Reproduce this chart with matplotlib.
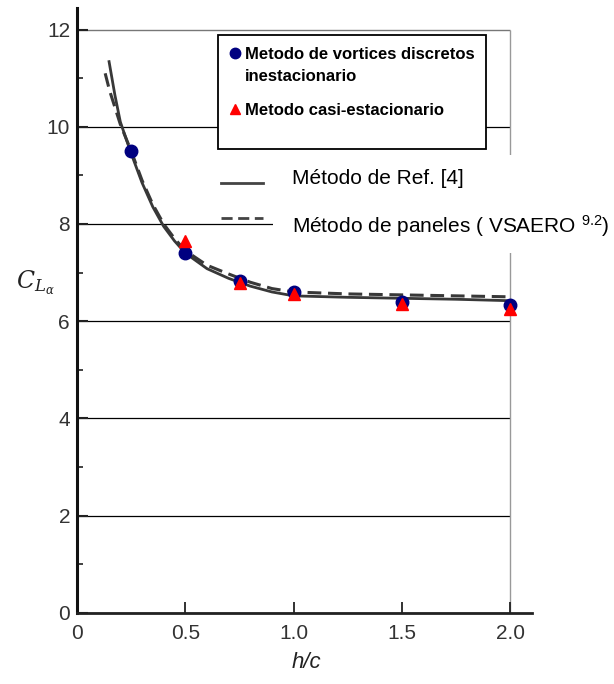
import matplotlib
matplotlib.use('Agg')
import matplotlib.pyplot as plt
from matplotlib.patches import Rectangle
from matplotlib.lines import Line2D

W, H = 614, 684

# Curva del metodo de Ref. [4] (linea continua)
hc_ref = [0.148, 0.175, 0.20, 0.25, 0.30, 0.35, 0.40, 0.45, 0.50, 0.60, 0.70, 0.80, 0.90, 1.00, 1.25, 1.50, 1.75, 2.00]
cl_ref = [11.34, 10.65, 10.10, 9.45, 8.85, 8.35, 7.95, 7.65, 7.40, 7.08, 6.88, 6.72, 6.60, 6.52, 6.49, 6.47, 6.45, 6.42]

# Curva del metodo de paneles VSAERO (linea discontinua)
hc_pan = [0.13, 0.15, 0.20, 0.25, 0.30, 0.35, 0.40, 0.45, 0.50, 0.60, 0.70, 0.80, 0.90, 1.00, 1.25, 1.50, 1.75, 2.00]
cl_pan = [11.10, 10.75, 10.05, 9.50, 8.90, 8.40, 8.00, 7.70, 7.45, 7.15, 6.97, 6.80, 6.67, 6.60, 6.56, 6.54, 6.52, 6.50]

# Metodo de vortices discretos inestacionario
hc_vort = [0.25, 0.5, 0.75, 1.0, 1.5, 2.0]
cl_vort = [9.50, 7.41, 6.83, 6.59, 6.40, 6.33]

# Metodo casi-estacionario
hc_qs = [0.5, 0.75, 1.0, 1.5, 2.0]
cl_qs = [7.64, 6.79, 6.56, 6.36, 6.24]

yticks = [0, 2, 4, 6, 8, 10, 12]
xticks = [0, 0.5, 1.0, 1.5, 2.0]
xticklabels = ['0', '0.5', '1.0', '1.5', '2.0']

plt.rcParams['font.family'] = ['Liberation Sans', 'DejaVu Sans']
plt.rcParams['mathtext.fontset'] = 'dejavuserif'


def fx(px):
    return px / W


def fy(py):
    return 1 - py / H


fig = plt.figure(figsize=(W / 100, H / 100), dpi=100)
ax = fig.add_axes([fx(77), fy(612.7), 455 / W, 605 / H])
ax.set_xlim(0, 2.1)
ax.set_ylim(0, 12.45)

# lineas horizontales y borde derecho
for v in yticks[:-1]:
    ax.hlines(v, 0, 2.0, color='black', lw=0.9, zorder=1)
ax.hlines(12, 0, 2.0, color='#777777', lw=1.0, zorder=1)
ax.vlines(2.0, 0, 12, color='#999999', lw=1.0, zorder=1)

ax.plot(hc_ref, cl_ref, color='#383838', lw=2.0, zorder=2)
ax.plot(hc_pan, cl_pan, color='#383838', lw=2.2, dashes=(4.5, 2.2), zorder=2)

ax.plot(hc_vort, cl_vort, 'o', color='#000080', ms=9, zorder=4)
ax.plot(hc_qs, cl_qs, '^', color='#ff0000', ms=8.5, zorder=5)

for s in ['top', 'right']:
    ax.spines[s].set_visible(False)
ax.spines['left'].set_linewidth(2.2)
ax.spines['left'].set_color('#111111')
ax.spines['bottom'].set_linewidth(2.0)
ax.spines['bottom'].set_color('#222222')

ax.set_yticks(yticks)
ax.set_yticks([1, 3, 5, 7, 9, 11], minor=True)
ax.set_xticks(xticks)
ax.set_xticklabels(xticklabels)
ax.tick_params(axis='y', which='major', direction='in', length=8, width=1.5,
               pad=5, labelsize=15, labelcolor='#333333', color='#222222')
ax.tick_params(axis='y', which='minor', direction='in', length=4, width=1.3,
               color='#333333')
ax.tick_params(axis='x', direction='in', length=8, width=1.3, pad=8,
               labelsize=15, labelcolor='#333333', color='#222222')

fig.text(fx(306), fy(663), 'h/c', style='italic', fontsize=16,
         ha='center', va='center', color='#222222')
fig.text(fx(35), fy(283), r'$C_{L_\alpha}$', fontsize=17,
         ha='center', va='center', color='#222222')

# recuadro de la leyenda de los puntos
fig.add_artist(Rectangle((fx(218), fy(149)), (486 - 218) / W, (149 - 35) / H,
                         transform=fig.transFigure, facecolor='white',
                         edgecolor='black', lw=1.3, zorder=3))
fig.add_artist(Line2D([fx(234.5)], [fy(53)], marker='o', color='#000080',
                      ms=7.5, transform=fig.transFigure, zorder=4))
fig.add_artist(Line2D([fx(234.5)], [fy(109)], marker='^', color='#ff0000',
                      ms=7.5, transform=fig.transFigure, zorder=4))
fig.text(fx(245), fy(59.3), 'Metodo de vortices discretos', fontsize=12,
         fontweight='bold', va='baseline', zorder=5)
fig.text(fx(245), fy(81), 'inestacionario', fontsize=12,
         fontweight='bold', va='baseline', zorder=5)
fig.text(fx(245), fy(115), 'Metodo casi-estacionario', fontsize=12,
         fontweight='bold', va='baseline', zorder=5)

# leyenda de las curvas
fig.add_artist(Rectangle((fx(273), fy(253)), (W - 273) / W, (253 - 155) / H,
                         transform=fig.transFigure, facecolor='white',
                         edgecolor='none', zorder=1))
fig.add_artist(Line2D([fx(221), fx(263)], [fy(183), fy(183)], color='#444444',
                      lw=2.0, transform=fig.transFigure, zorder=2))
fig.add_artist(Line2D([fx(221), fx(263)], [fy(218), fy(218)], color='#444444',
                      lw=2.0, dashes=(4, 2), transform=fig.transFigure, zorder=2))
fig.text(fx(292), fy(184), 'Método de Ref. [4]', fontsize=15,
         va='baseline', zorder=5)
fig.text(fx(292), fy(232.7), r'Método de paneles ( VSAERO $\mathregular{^{9.2}}$)',
         fontsize=15, va='baseline', zorder=5)

fig.savefig('out.png', dpi=100)
